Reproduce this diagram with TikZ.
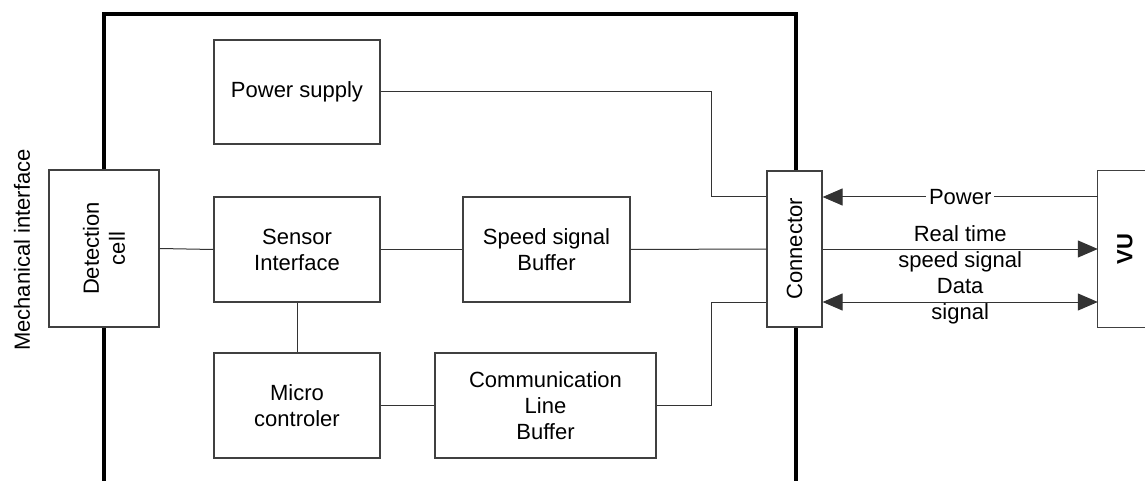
\documentclass[tikz,border=0pt]{standalone}
\usepackage{fontspec}
\setmainfont{Liberation Sans}
\usetikzlibrary{arrows.meta}
\begin{document}
\begin{tikzpicture}[x=1pt,y=-1pt,
  every node/.style={font=\fontsize{22}{26}\selectfont, inner sep=0pt},
  blk/.style={draw=black!75, line width=1.2pt, fill=white, align=center},
  wire/.style={draw=black!80, line width=1pt},
  arr/.style={wire, -{Triangle[length=20pt,width=17pt]}},
  darr/.style={wire, {Triangle[length=20pt,width=17pt]}-{Triangle[length=20pt,width=17pt]}},
  frame/.style={draw=black, line width=4pt}]
\useasboundingbox (0,0) rectangle (1145,481);
% housing frame
\coordinate (fbl) at (104,483);
\coordinate (ftl) at (104,14);
\coordinate (ftr) at (796,14);
\coordinate (fbr) at (796,483);
\draw[frame] (fbl) -- (ftl) -- (ftr) -- (fbr);
% blocks
\node[blk, minimum width=166pt, minimum height=104pt] (ps) at (297,92) {Power supply};
\node[blk, minimum width=166pt, minimum height=105pt] (si) at (297,249.5) {Sensor\\Interface};
\node[blk, minimum width=166pt, minimum height=105pt] (mc) at (297,405.5) {Micro\\controler};
\node[blk, minimum width=167pt, minimum height=105pt] (sb) at (546.5,249.5) {Speed signal\\Buffer};
\node[blk, minimum width=221pt, minimum height=105pt] (cb) at (545.5,405.5) {Communication\\Line\\Buffer};
\node[blk, minimum width=110pt, minimum height=157pt] (dc) at (104,248.5) {};
\node[rotate=90, align=center] at (dc.center) {Detection\\cell};
\node[blk, minimum width=55pt, minimum height=156pt] (cn) at (794.5,249) {};
\node[rotate=90] at (cn.center) {Connector};
\node[rotate=90] (mi) at (22,250) {Mechanical interface};
% VU (right side cut by the page edge)
\node[minimum width=47pt, minimum height=156pt] (vu) at (1121.5,249) {};
\draw[draw=black!75, line width=1.2pt] (vu.north east) -- (vu.north west) -- (vu.south west) -- (vu.south east);
\node[rotate=90, font=\fontsize{22}{26}\selectfont\bfseries] (vut) at (1125,249) {VU};
% internal wires
\draw[wire] (dc.east) -- (si.west);
\draw[wire] (si.east) -- (sb.west);
\draw[wire] (si.south) -- (mc.north);
\draw[wire] (mc.east) -- (cb.west);
\draw[wire] (sb.east) -- (cn.west);
\draw[wire] (ps.east) -- (711,92) -- (711,197) -- (cn.west |- 0,197);
\draw[wire] (cb.east) -- (711,405.5) -- (711,302) -- (cn.west |- 0,302);
% external links
\draw[arr] (vu.west |- 0,197) -- node[fill=white, inner xsep=3pt, inner ysep=2pt] (pl) {Power} (cn.east |- 0,197);
\draw[arr] (cn.east) -- node[align=center] (rl) {Real time\\speed signal} (vu.west);
\draw[darr] (cn.east |- 0,302) -- node[align=center, yshift=0.5pt] (dl) {Data\\signal} (vu.west |- 0,302);
\end{tikzpicture}
\end{document}
